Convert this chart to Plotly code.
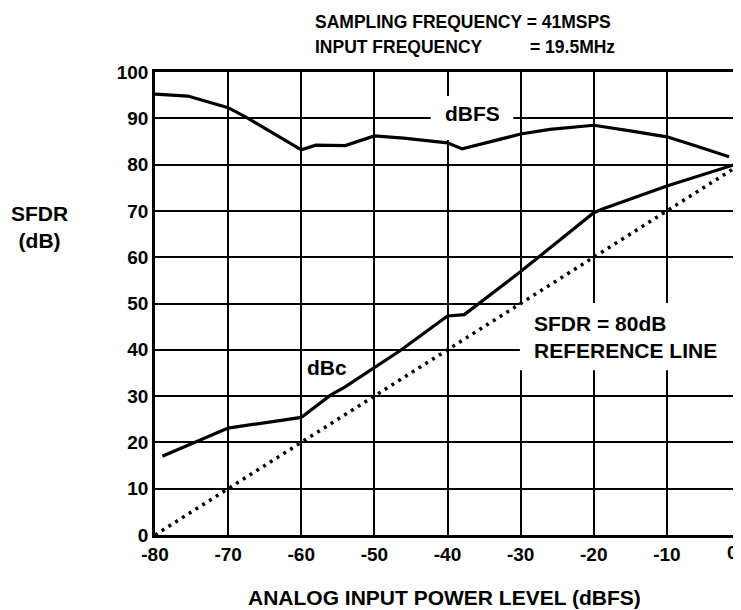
import plotly.graph_objects as go

# dBFS curve (SFDR relative to full scale)
dbfs_x = [-80, -75.5, -70, -67.5, -60, -58, -54, -50, -46, -40, -38, -34, -30, -26, -20, -15, -10, -6, -1.5]
dbfs_y = [95.2, 94.8, 92.3, 90.2, 83.2, 84.2, 84.1, 86.2, 85.7, 84.7, 83.4, 85.0, 86.6, 87.6, 88.5, 87.3, 86.0, 84.0, 81.7]

# dBc curve (SFDR relative to carrier)
dbc_x = [-79, -70, -60, -56, -54, -46.5, -40, -37.7, -30, -20, -18.8, -10, -0.7]
dbc_y = [17.0, 23.1, 25.4, 30.2, 32.0, 39.8, 47.3, 47.6, 56.9, 69.6, 70.4, 75.4, 80.0]

# SFDR = 80dB reference line
ref_x = [-80, 0]
ref_y = [0, 80]

x_ticks = [-80, -70, -60, -50, -40, -30, -20, -10, 0]
x_labels = ["-80", "-70", "-60", "-50", "-40", "-30", "-20", "-10", ""]
y_ticks = [0, 10, 20, 30, 40, 50, 60, 70, 80, 90, 100]

FONT = "Liberation Sans, Arial, sans-serif"

fig = go.Figure()
fig.add_trace(go.Scatter(x=dbfs_x, y=dbfs_y, mode="lines",
                         line=dict(color="black", width=3.2), hoverinfo="skip"))
fig.add_trace(go.Scatter(x=dbc_x, y=dbc_y, mode="lines",
                         line=dict(color="black", width=3.2), hoverinfo="skip"))
fig.add_trace(go.Scatter(x=ref_x, y=ref_y, mode="lines",
                         line=dict(color="black", width=3.5, dash="3px,5px"), hoverinfo="skip"))

# white patches that break the grid behind the in-plot labels
fig.add_shape(type="rect", x0=-42.3, x1=-31.0, y0=85.3, y1=94.8,
              fillcolor="white", line_width=0, layer="between")
fig.add_shape(type="rect", x0=-30.1, x1=0, y0=35.6, y1=50.1,
              fillcolor="white", line_width=0, layer="between")

bold = dict(family=FONT, color="black", weight="bold")


def label(text, x, y, size, paper=False, xanchor="center", align="center"):
    kw = dict(xref="paper", yref="paper") if paper else {}
    fig.add_annotation(x=x, y=y, text=text, showarrow=False, xanchor=xanchor,
                       yanchor="middle", align=align, font=dict(size=size, **bold), **kw)


label("dBFS", -36.6, 91.1, 21)
label("dBc", -56.5, 36.2, 21)
label("SFDR = 80dB<br>REFERENCE LINE", -28.4, 42.8, 21, xanchor="left", align="left")

# titles outside the plot
label("SAMPLING FREQUENCY = 41MSPS", 0.27, 1.108, 17.5, paper=True, xanchor="left")
label("INPUT FREQUENCY", 0.27, 1.054, 17.5, paper=True, xanchor="left")
label("= 19.5MHz", 0.637, 1.054, 17.5, paper=True, xanchor="left")
label("SFDR<br>(dB)", -0.197, 0.665, 21, paper=True)
label("ANALOG INPUT POWER LEVEL (dBFS)", 0.495, -0.134, 21, paper=True)
# last x tick label sits at the right edge of the page
label("0", 1.0, -0.037, 19, paper=True, xanchor="right")

axis_common = dict(showgrid=True, gridcolor="black", gridwidth=1.8,
                   showline=True, linecolor="black", linewidth=2.5, mirror=True,
                   zeroline=False, ticks="", automargin=False,
                   tickfont=dict(size=19, **bold))

fig.update_xaxes(range=[-80, 0], tickvals=x_ticks, ticktext=x_labels, **axis_common)
fig.update_yaxes(range=[0, 100], tickvals=y_ticks, **axis_common)

# the page body adds an 8px margin, so the figure is 8px smaller than the window
fig.update_layout(
    template="none",
    width=733,
    height=602,
    margin=dict(l=147, r=1, t=64, b=75, autoexpand=False),
    paper_bgcolor="white",
    plot_bgcolor="white",
    showlegend=False,
    font=dict(family=FONT, color="black"),
)

fig.write_html("out.html")
